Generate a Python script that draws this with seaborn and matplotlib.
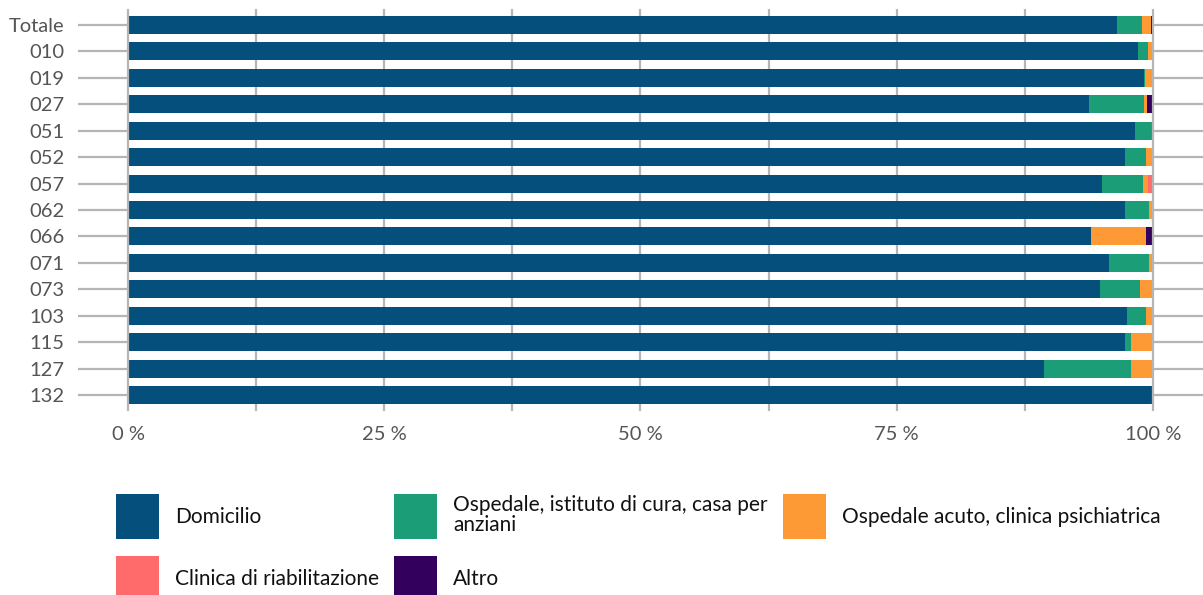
import pandas as pd
import matplotlib
matplotlib.use('Agg')
import matplotlib.pyplot as plt
import seaborn as sns
from matplotlib.patches import Patch

sns.set_theme(style='white')
plt.rcParams['font.family'] = ['Lato', 'DejaVu Sans']

categories = ['Totale', '010', '019', '027', '051', '052', '057', '062',
              '066', '071', '073', '103', '115', '127', '132']
domicilio = [96.5, 98.6, 99.1, 93.8, 98.3, 97.3, 95.0, 97.3,
             94.0, 95.7, 94.8, 97.5, 97.3, 89.4, 100.0]
ospedale_cura = [2.4, 0.9, 0.1, 5.3, 1.7, 2.0, 4.0, 2.3,
                 0.0, 3.9, 4.0, 1.8, 0.6, 8.5, 0.0]
ospedale_acuto = [0.9, 0.5, 0.8, 0.3, 0.0, 0.7, 0.5, 0.4,
                  5.3, 0.4, 1.2, 0.7, 2.1, 2.1, 0.0]
riabilitazione = [0.0, 0.0, 0.0, 0.0, 0.0, 0.0, 0.5, 0.0,
                  0.0, 0.0, 0.0, 0.0, 0.0, 0.0, 0.0]
altro = [0.2, 0.0, 0.0, 0.6, 0.0, 0.0, 0.0, 0.0,
         0.7, 0.0, 0.0, 0.0, 0.0, 0.0, 0.0]

series = ['Domicilio', 'Ospedale, istituto di cura, casa per\nanziani',
          'Ospedale acuto, clinica psichiatrica', 'Clinica di riabilitazione', 'Altro']
colors = ['#054f7d', '#1b9e77', '#fd9a35', '#ff6b6b', '#33005e']

df = pd.DataFrame({'cat': categories, 's0': domicilio, 's1': ospedale_cura,
                   's2': ospedale_acuto, 's3': riabilitazione, 's4': altro})
cols = ['s0', 's1', 's2', 's3', 's4']
cum = df[cols].cumsum(axis=1)

fig = plt.figure(figsize=(12.03, 5.95), dpi=100)
ax = fig.add_axes([78 / 1203, 1 - 410.9 / 595, 1 - 78 / 1203, (410.9 - 9.1) / 595])

# stacked bars: draw cumulative totals from the back to the front
for i in range(len(cols) - 1, -1, -1):
    sns.barplot(x=cum[cols[i]], y=df['cat'], orient='h', color=colors[i],
                width=0.68, saturation=1, linewidth=0, ax=ax, zorder=3)

ax.set_xlim(-4.9, 104.9)
ax.set_ylim(14.6, -0.6)
grid_c = '#b5b5b5'
for x in [0, 12.5, 25, 37.5, 50, 62.5, 75, 87.5, 100]:
    ax.axvline(x, color=grid_c, lw=1.6, zorder=1 if 0 < x < 100 else 4)
for y in range(len(categories)):
    ax.axhline(y, color=grid_c, lw=1.6, zorder=1)

ax.set_xticks([0, 25, 50, 75, 100])
ax.set_xticklabels(['0 %', '25 %', '50 %', '75 %', '100 %'])
ax.tick_params(axis='both', length=0, labelsize=14.5, colors='#555555')
ax.tick_params(axis='y', pad=9.5)
ax.tick_params(axis='x', pad=11)
ax.set_xlabel('')
ax.set_ylabel('')
for s in ax.spines.values():
    s.set_visible(False)

order = [0, 3, 1, 4, 2]
handles = [Patch(facecolor=colors[i], edgecolor='none') for i in order]
labels = [series[i] for i in order]
fs = 15
px = fs * 100 / 72
leg = fig.legend(handles, labels, ncol=3, loc='upper left',
                 bbox_to_anchor=(116 / 1203, 1 - 494 / 595), frameon=False,
                 fontsize=fs, handlelength=43 / px, handleheight=43 / px / 0.7,
                 handletextpad=16 / px, columnspacing=15 / px,
                 labelspacing=17 / px, borderpad=0, borderaxespad=0,
                 labelcolor='#111111')
for t in leg.get_texts():
    t.set_linespacing(1.0)

plt.savefig('out.png', dpi=100)
plt.close()
